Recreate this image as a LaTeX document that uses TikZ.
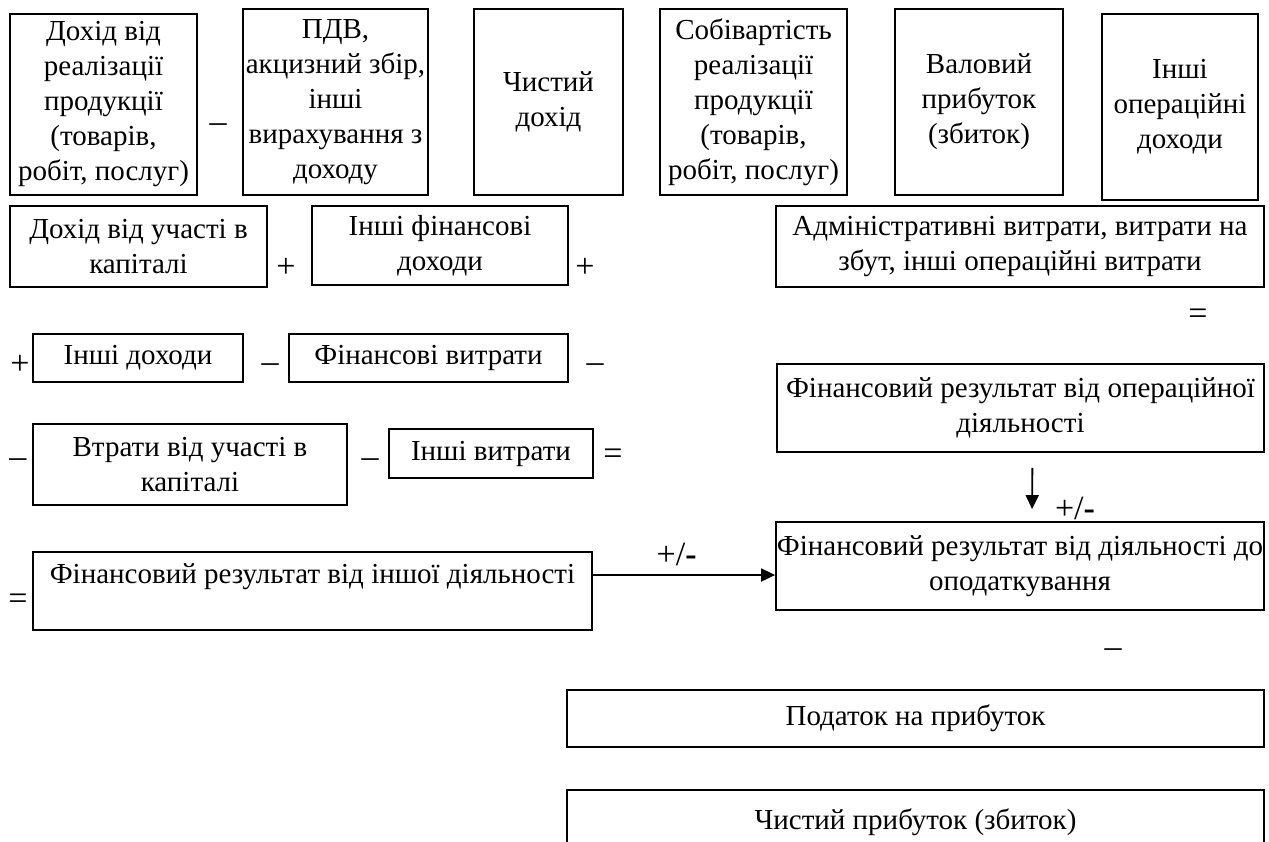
\documentclass[tikz,border=0pt]{standalone}
\usepackage{fontspec}
\setmainfont{Liberation Serif}
\usetikzlibrary{positioning, arrows.meta}
\tikzset{
    x=0.5pt, y=-0.5pt, % one unit is one pixel of the page, y grows downwards
    box/.style={draw, line width=0.9pt, align=center, inner sep=0pt, font=\fontsize{14.5pt}{17.5pt}\selectfont}, % frame round each item
    sign/.style={inner sep=0pt, font=\fontsize{17pt}{20pt}\selectfont}, % the + - = signs between the items
    >={Triangle[length=7pt, width=6.5pt]}, % filled arrow heads
}
\begin{document}
\begin{tikzpicture}
\useasboundingbox (0,0) rectangle (1269,841);
% first row
\node[box, minimum width=93.5pt, minimum height=90.5pt] (rev) at (103.5,104.5) {Дохід від\\реалізації\\продукції\\(товарів,\\робіт, послуг)};
\node[box, minimum width=92.5pt, minimum height=93pt] (vat) at (335.5,102) {ПДВ,\\акцизний збір,\\інші\\вирахування з\\доходу};
\node[box, minimum width=74.5pt, minimum height=93pt] (netrev) at (548.5,102) {Чистий\\дохід};
\node[box, minimum width=93.5pt, minimum height=93pt] (cost) at (753.5,102) {Собівартість\\реалізації\\продукції\\(товарів,\\робіт, послуг)};
\node[box, minimum width=84pt, minimum height=93pt] (gross) at (979,102) {Валовий\\прибуток\\(збиток)};
\node[box, minimum width=78pt, minimum height=93pt] (othop) at (1180,107) {Інші\\операційні\\доходи};
\node[sign] (s1) at (218,128) {–};
% second row
\node[box, minimum width=128.5pt, minimum height=40.5pt] (equity) at (138.5,246.5) {Дохід від участі в\\капіталі};
\node[box, minimum width=128pt, minimum height=39.5pt] (othfin) at (440,245.5) {Інші фінансові\\доходи};
\node[box, minimum width=244pt, minimum height=40.5pt] (admin) at (1020,246.5) {Адміністративні витрати, витрати на\\збут, інші операційні витрати};
\node[sign] (s2) at (286,268) {+};
\node[sign] (s3) at (585,268) {+};
\node[sign] (s4) at (1198,317) {=};
% third row
\node[box, minimum width=105pt, minimum height=24pt] (othinc) at (138,358) {Інші доходи};
\node[box, minimum width=139.5pt, minimum height=24pt] (finexp) at (428.5,358) {Фінансові витрати};
\node[box, minimum width=243.5pt, minimum height=44pt] (opres) at (1020.5,408) {Фінансовий результат від операційної\\діяльності};
\node[sign] (s5) at (20,365) {+};
\node[sign] (s6) at (270,368) {–};
\node[sign] (s7) at (595,368) {–};
% fourth row
\node[box, minimum width=157pt, minimum height=40.5pt] (loss) at (190,464.5) {Втрати від участі в\\капіталі};
\node[box, minimum width=102pt, minimum height=24.5pt] (othexp) at (491,453.5) {Інші витрати};
\node[box, minimum width=244pt, minimum height=44pt] (pretax) at (1020,566) {Фінансовий результат від діяльності до\\оподаткування};
\node[sign] (s8) at (18,463) {–};
\node[sign] (s9) at (370,463) {–};
\node[sign] (s10) at (613,457) {=};
% fifth row
\node[box, minimum width=279.5pt, minimum height=39pt] (othres) at (312.5,591) {Фінансовий результат від іншої діяльності\\ \mbox{}};
\node[sign] (s11) at (18,602) {=};
% last rows
\node[sign] (s12) at (1113,653) {–};
\node[box, minimum width=348.5pt, minimum height=28.5pt] (tax) at (915.5,718.5) {Податок на прибуток};
\node[box, minimum width=348.5pt, minimum height=32pt] (net) at (915.5,822) {Чистий прибуток (збиток)};
% arrows
\draw[->, line width=0.9pt, shorten <=7.5pt, shorten >=6pt] ([xshift=6pt]opres.south) -- ([xshift=6pt]pretax.north);
\node[sign] (pmop) at (1075,508) {+/\textbf{-}};
\draw[->, line width=0.9pt] ([yshift=8pt]othres.east) -- node[sign, above=4pt, pos=0.46] (pmoth) {+/\textbf{-}} ([yshift=-4.5pt]pretax.west);
\end{tikzpicture}
\end{document}
